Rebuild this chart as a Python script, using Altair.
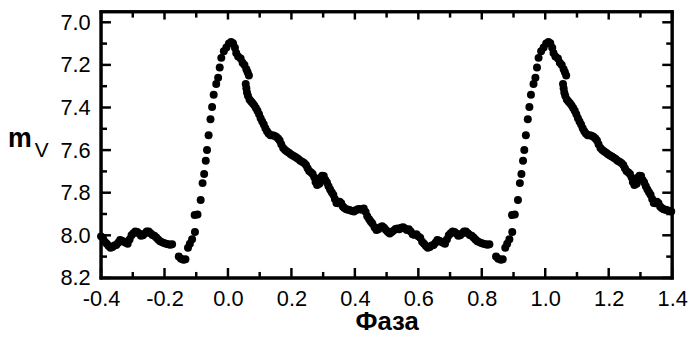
import altair as alt
import pandas as pd

# Base light curve (phase in one cycle, V magnitude)
rise_phase = [0.845, 0.852, 0.860, 0.866, 0.874, 0.880, 0.887, 0.896, 0.895, 0.904,
              0.914, 0.920, 0.925, 0.930, 0.934, 0.939, 0.945, 0.950, 0.955, 0.963,
              0.969, 0.974, 0.979, 0.987, 0.995]
rise_mag = [8.100, 8.110, 8.115, 8.112, 8.058, 8.040, 8.018, 7.985, 7.905, 7.902,
            7.834, 7.755, 7.712, 7.650, 7.600, 7.530, 7.455, 7.398, 7.340, 7.290,
            7.260, 7.212, 7.167, 7.136, 7.118]

peak_phase = [0.003, 0.010, 0.016, 0.022, 0.026, 0.032, 0.040, 0.046, 0.052, 0.058,
              0.062, 0.066]
peak_mag = [7.100, 7.092, 7.098, 7.120, 7.144, 7.160, 7.170, 7.190, 7.200, 7.220,
            7.235, 7.250]

decl_phase = [0.056, 0.058, 0.060, 0.063, 0.068, 0.073, 0.078, 0.083, 0.088, 0.093,
              0.098, 0.103, 0.108, 0.113, 0.118, 0.123, 0.128, 0.134, 0.140, 0.146,
              0.152, 0.158, 0.163, 0.168, 0.174, 0.180, 0.186, 0.192, 0.198, 0.204,
              0.210, 0.216, 0.222, 0.228, 0.234, 0.240, 0.246, 0.251, 0.256, 0.262,
              0.267, 0.272, 0.276, 0.281, 0.283, 0.288, 0.292, 0.297, 0.302, 0.307,
              0.312, 0.317, 0.322, 0.327, 0.332, 0.337, 0.342, 0.347, 0.352, 0.357,
              0.362, 0.367, 0.373, 0.379, 0.385, 0.391, 0.397, 0.403, 0.409, 0.415,
              0.421, 0.428, 0.434, 0.439, 0.445, 0.450]
decl_mag = [7.290, 7.310, 7.330, 7.345, 7.362, 7.372, 7.380, 7.390, 7.402, 7.415,
            7.432, 7.450, 7.466, 7.480, 7.497, 7.512, 7.522, 7.530, 7.530, 7.533,
            7.537, 7.545, 7.555, 7.572, 7.590, 7.600, 7.606, 7.612, 7.620, 7.625,
            7.630, 7.636, 7.642, 7.650, 7.655, 7.660, 7.670, 7.685, 7.698, 7.705,
            7.712, 7.728, 7.750, 7.764, 7.738, 7.758, 7.730, 7.720, 7.722, 7.740,
            7.752, 7.770, 7.785, 7.798, 7.810, 7.830, 7.848, 7.850, 7.842, 7.850,
            7.865, 7.872, 7.878, 7.880, 7.882, 7.886, 7.888, 7.882, 7.878, 7.876,
            7.880, 7.874, 7.890, 7.910, 7.925, 7.935]

flat_phase = [0.455, 0.462, 0.468, 0.474, 0.480, 0.486, 0.492, 0.498, 0.504, 0.510,
              0.516, 0.522, 0.528, 0.534, 0.540, 0.546, 0.552, 0.558, 0.564, 0.570,
              0.576, 0.582, 0.588, 0.594, 0.600, 0.606, 0.612, 0.618, 0.624, 0.630,
              0.636, 0.642, 0.648, 0.654, 0.660, 0.666, 0.672, 0.678, 0.684, 0.690,
              0.696, 0.702, 0.708, 0.714, 0.720, 0.726, 0.732, 0.738, 0.744, 0.750,
              0.756, 0.762, 0.768, 0.774, 0.780, 0.786, 0.792, 0.798, 0.805, 0.812,
              0.818, 0.824]
flat_mag = [7.945, 7.962, 7.975, 7.972, 7.962, 7.958, 7.965, 7.975, 7.985, 7.992,
            7.985, 7.978, 7.970, 7.968, 7.972, 7.965, 7.962, 7.968, 7.975, 7.972,
            7.982, 7.995, 7.998, 7.995, 8.005, 8.012, 8.030, 8.040, 8.050, 8.058,
            8.055, 8.048, 8.045, 8.035, 8.022, 8.025, 8.030, 8.035, 8.040, 8.020,
            8.000, 7.990, 7.982, 7.985, 7.992, 8.002, 8.000, 7.992, 7.982, 7.982,
            7.990, 7.998, 8.002, 8.010, 8.020, 8.028, 8.032, 8.036, 8.040, 8.042,
            8.044, 8.042]

x_labels = [-0.4, -0.2, 0.0, 0.2, 0.4, 0.6, 0.8, 1.0, 1.2, 1.4]
x_minor = [-0.3, -0.1, 0.1, 0.3, 0.5, 0.7, 0.9, 1.1, 1.3]
y_labels = [7.0, 7.2, 7.4, 7.6, 7.8, 8.0, 8.2]
y_minor = [7.1, 7.3, 7.5, 7.7, 7.9, 8.1]

W, H = 577, 269

base = pd.DataFrame({
    "phase": rise_phase + peak_phase + decl_phase + flat_phase,
    "mag": rise_mag + peak_mag + decl_mag + flat_mag,
})
parts = [base,
         base.assign(phase=base["phase"] - 1),
         base.assign(phase=base["phase"] + 1)]
df = pd.concat(parts, ignore_index=True)
df = df[(df["phase"] >= -0.4) & (df["phase"] <= 1.4)].reset_index(drop=True)

xs = alt.Scale(domain=[-0.4, 1.4], nice=False, zero=False)
ys = alt.Scale(domain=[6.95, 8.2], reverse=True, nice=False, zero=False)

FONT = "Liberation Sans"
one = pd.DataFrame({"f": [0]})


def hbar_path(half_len, half_w):
    t = half_w / half_len
    return f"M -1 {-t:.5f} L 1 {-t:.5f} L 1 {t:.5f} L -1 {t:.5f} Z"


def vbar_path(half_len, half_w):
    t = half_w / half_len
    return f"M {-t:.5f} -1 L {t:.5f} -1 L {t:.5f} 1 L {-t:.5f} 1 Z"


# frame: filled bar-shaped symbols (custom symbol path, scaled by sqrt(size)/2)
def frame_h(yc):
    L = W + 3
    return alt.Chart(one).mark_point(
        shape=hbar_path(L / 2, 1.5), size=L * L, filled=True,
        color="black", opacity=1, strokeWidth=0).encode(
        x=alt.value(W / 2), y=alt.value(yc))


def frame_v(xc):
    L = H + 3
    return alt.Chart(one).mark_point(
        shape=vbar_path(L / 2, 1.5), size=L * L, filled=True,
        color="black", opacity=1, strokeWidth=0).encode(
        x=alt.value(xc), y=alt.value(H / 2))


frame = [frame_h(0), frame_h(H), frame_v(0), frame_v(W)]

points = alt.Chart(df).mark_circle(size=65, color="black", opacity=1).encode(
    x=alt.X("phase:Q", scale=xs,
            axis=alt.Axis(values=x_labels, ticks=False, domain=False, grid=False,
                          labelExpr="datum.value < -0.01 ? '-' + format(-datum.value, '.1f') : format(datum.value, '.1f')",
                          labelFont=FONT, labelFontSize=22, labelColor="black",
                          labelPadding=11, labelFlush=False,
                          title="Фаза", titleFont=FONT, titleFontSize=26,
                          titleFontWeight="bold", titleColor="black", titlePadding=-1)),
    y=alt.Y("mag:Q", scale=ys,
            axis=alt.Axis(values=y_labels, ticks=False, domain=False, grid=False,
                          format=".1f", labelFont=FONT, labelFontSize=22,
                          labelColor="black", labelPadding=11, labelFlush=False,
                          title=None)),
)

tx_major = pd.DataFrame({"xt": x_labels})
tx_minor = pd.DataFrame({"xt": x_minor})
ty_major = pd.DataFrame({"yt": y_labels})
ty_minor = pd.DataFrame({"yt": y_minor})


def xticks(d, length, yc):
    return alt.Chart(d).mark_point(
        shape=vbar_path(length / 2, 1.25), size=length * length, filled=True,
        color="black", opacity=1, strokeWidth=0).encode(
        x=alt.X("xt:Q", scale=xs), y=alt.value(yc))


def yticks(d, length, xc):
    return alt.Chart(d).mark_point(
        shape=hbar_path(length / 2, 1.25), size=length * length, filled=True,
        color="black", opacity=1, strokeWidth=0).encode(
        y=alt.Y("yt:Q", scale=ys), x=alt.value(xc))


ticks = [
    xticks(tx_major, 10, H - 5), xticks(tx_minor, 6, H - 3),
    xticks(tx_major, 8, 4), xticks(tx_minor, 6, 3),
    yticks(ty_major, 10, 5), yticks(ty_minor, 6, 3),
    yticks(ty_major, 10, W - 5), yticks(ty_minor, 6, W - 3),
]

m_label = alt.Chart(pd.DataFrame({"t": ["m"]})).mark_text(
    font=FONT, fontSize=27, fontWeight="bold", color="black",
    align="left", baseline="alphabetic").encode(
    text="t:N", x=alt.value(-94), y=alt.value(137))
v_label = alt.Chart(pd.DataFrame({"t": ["V"]})).mark_text(
    font=FONT, fontSize=21, color="black",
    align="left", baseline="alphabetic").encode(
    text="t:N", x=alt.value(-67), y=alt.value(147))

chart = alt.layer(points, *frame, *ticks, m_label, v_label).properties(
    width=W, height=H,
    autosize=alt.AutoSizeParams(type="none"),
    padding={"left": 94, "top": 2, "right": 16, "bottom": 56},
).configure_view(stroke="black", strokeWidth=3)

chart.save("out.html", embed_options={"renderer": "svg", "actions": False})
